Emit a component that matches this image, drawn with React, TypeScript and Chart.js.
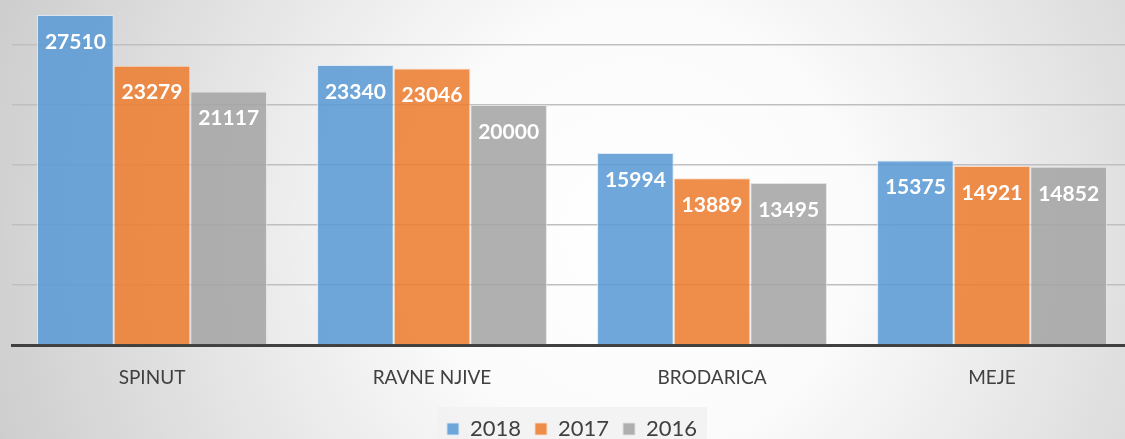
import React, { useEffect, useRef } from "react";
import { Chart, registerables } from "chart.js";

Chart.register(...registerables);

const categories = ["SPINUT", "RAVNE NJIVE", "BRODARICA", "MEJE"];
const series2018 = [27510, 23340, 15994, 15375];
const series2017 = [23279, 23046, 13889, 14921];
const series2016 = [21117, 20000, 13495, 14852];
const seriesLabels = ["2018", "2017", "2016"];
const yMax = 28750;
const gridValues = [0, 5000, 10000, 15000, 20000, 25000];

const FONT = "Lato, 'Open Sans', sans-serif";

const bgPlugin = {
  id: "bgPlugin",
  beforeDraw(chart: any) {
    const { ctx, width, height } = chart;
    ctx.save();
    const g = ctx.createRadialGradient(640, 230, 0, 640, 230, 720);
    g.addColorStop(0, "#ffffff");
    g.addColorStop(0.3, "#fbfbfb");
    g.addColorStop(1, "#c9c9c9");
    ctx.fillStyle = g;
    ctx.fillRect(0, 0, width, height);
    const lg = chart.legend;
    if (lg) {
      const cx = (lg.left + lg.right) / 2;
      ctx.fillStyle = "rgba(242,242,242,0.9)";
      ctx.fillRect(cx - 135, lg.top + 3, 270, lg.bottom - lg.top + 10);
    }
    ctx.restore();
  },
};

const labelPlugin = {
  id: "labelPlugin",
  afterDatasetsDraw(chart: any) {
    const { ctx } = chart;
    ctx.save();
    ctx.font = `bold 21px ${FONT}`;
    ctx.fillStyle = "#ffffff";
    ctx.textAlign = "center";
    ctx.textBaseline = "middle";
    chart.data.datasets.forEach((ds: any, i: number) => {
      const meta = chart.getDatasetMeta(i);
      meta.data.forEach((bar: any, j: number) => {
        ctx.fillText(String(ds.data[j]), bar.x, bar.y + 27);
      });
    });
    ctx.restore();
  },
};

export default function App() {
  const ref = useRef<HTMLCanvasElement>(null);
  useEffect(() => {
    document.body.style.margin = "0";
    const mk = (label: string, data: number[], bg: string, bd: string) => ({
      label,
      data,
      backgroundColor: bg,
      borderColor: bd,
      borderWidth: 1,
      borderSkipped: "bottom",
      categoryPercentage: 0.821,
      barPercentage: 1.0,
    });
    const chart = new Chart(ref.current!, {
      type: "bar",
      data: {
        labels: categories,
        datasets: [
          mk(seriesLabels[0], series2018, "rgba(91,155,213,0.88)", "rgba(220,232,245,0.9)"),
          mk(seriesLabels[1], series2017, "rgba(237,125,49,0.88)", "rgba(250,220,200,0.9)"),
          mk(seriesLabels[2], series2016, "rgba(165,165,165,0.88)", "rgba(225,225,225,0.9)"),
        ] as any,
      },
      options: {
        animation: false,
        responsive: false,
        devicePixelRatio: 1,
        layout: { padding: { left: 12, right: 8, top: 0, bottom: 10 } },
        plugins: {
          tooltip: { enabled: false },
          legend: {
            position: "bottom",
            labels: {
              boxWidth: 12,
              boxHeight: 12,
              padding: 14,
              color: "#404040",
              font: { family: FONT, size: 22 },
            },
          },
        },
        scales: {
          x: {
            grid: { display: false, drawTicks: false },
            border: { display: true, color: "#404040", width: 3 },
            ticks: {
              color: "#404040",
              font: { family: FONT, size: 19 },
              padding: 21,
            },
            afterFit(scale: any) {
              scale.height = 59;
            },
          },
          y: {
            min: 0,
            max: yMax,
            ticks: { display: false },
            grid: {
              drawTicks: false,
              lineWidth: 1.5,
              color: "#bfbfbf",
            },
            border: { display: false },
            afterBuildTicks(scale: any) {
              scale.ticks = gridValues.map((v) => ({ value: v }));
            },
            afterFit(scale: any) {
              scale.width = 0;
            },
          },
        },
      },
      plugins: [bgPlugin, labelPlugin],
    });
    return () => chart.destroy();
  }, []);
  return (
    <div
      style={{
        position: "fixed",
        left: 0,
        top: 0,
        width: 1125,
        height: 439,
        overflow: "hidden",
      }}
    >
      <canvas ref={ref} width={1140} height={460} style={{ width: 1140, height: 460, display: "block" }} />
    </div>
  );
}
